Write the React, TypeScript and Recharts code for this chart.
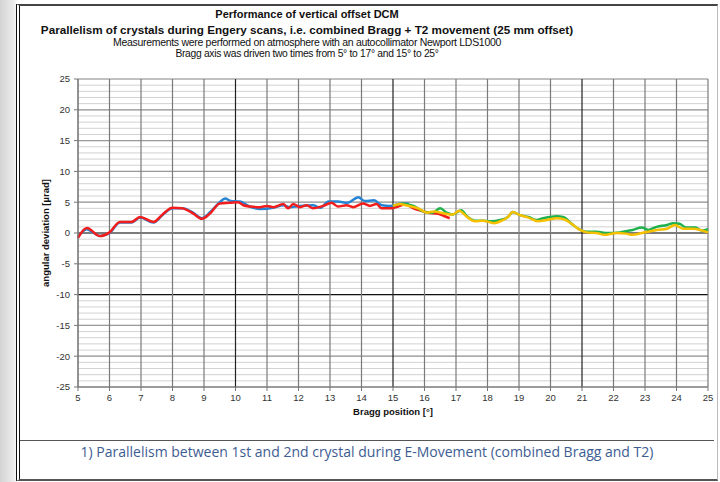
import React from 'react';
import {
  LineChart,
  Line,
  XAxis,
  YAxis,
  CartesianGrid,
  ReferenceLine,
} from 'recharts';

// Bragg position [deg] vs angular deviation [urad]
const run1Blue = [
  { x: 5.0, y: -0.6 }, { x: 5.28, y: 0.6 }, { x: 5.5, y: 0.0 }, { x: 5.7, y: -0.5 },
  { x: 6.0, y: 0.0 }, { x: 6.33, y: 1.7 }, { x: 6.7, y: 1.7 }, { x: 6.97, y: 2.5 },
  { x: 7.4, y: 1.7 }, { x: 7.7, y: 3.0 }, { x: 8.0, y: 4.0 }, { x: 8.3, y: 4.0 },
  { x: 8.65, y: 3.3 }, { x: 8.93, y: 2.4 }, { x: 9.2, y: 3.4 }, { x: 9.5, y: 5.0 },
  { x: 9.67, y: 5.6 }, { x: 9.85, y: 5.2 }, { x: 10.14, y: 5.1 }, { x: 10.45, y: 4.3 },
  { x: 10.78, y: 3.9 }, { x: 11.2, y: 4.1 }, { x: 11.52, y: 4.5 }, { x: 11.7, y: 4.2 },
  { x: 12.05, y: 4.4 }, { x: 12.46, y: 4.5 }, { x: 12.7, y: 4.1 }, { x: 12.95, y: 5.1 },
  { x: 13.25, y: 5.1 }, { x: 13.55, y: 4.9 }, { x: 13.9, y: 5.8 }, { x: 14.1, y: 5.2 },
  { x: 14.4, y: 5.3 }, { x: 14.65, y: 4.5 }, { x: 14.9, y: 4.4 }, { x: 15.22, y: 4.7 },
  { x: 15.5, y: 4.8 },
];

const run1Red = [
  { x: 5.0, y: -0.8 }, { x: 5.28, y: 0.8 }, { x: 5.7, y: -0.5 }, { x: 6.0, y: 0.1 },
  { x: 6.33, y: 1.8 }, { x: 6.7, y: 1.8 }, { x: 6.97, y: 2.6 }, { x: 7.4, y: 1.8 },
  { x: 7.7, y: 3.1 }, { x: 8.0, y: 4.1 }, { x: 8.3, y: 4.0 }, { x: 8.65, y: 3.2 },
  { x: 8.93, y: 2.3 }, { x: 9.2, y: 3.2 }, { x: 9.5, y: 4.8 }, { x: 9.83, y: 4.9 },
  { x: 10.08, y: 5.0 }, { x: 10.25, y: 4.5 }, { x: 10.46, y: 4.3 }, { x: 10.78, y: 4.2 },
  { x: 11.0, y: 4.4 }, { x: 11.2, y: 4.2 }, { x: 11.52, y: 4.7 }, { x: 11.67, y: 4.0 },
  { x: 11.83, y: 4.7 }, { x: 12.05, y: 4.2 }, { x: 12.26, y: 4.5 }, { x: 12.46, y: 4.0 },
  { x: 12.78, y: 4.4 }, { x: 13.05, y: 4.9 }, { x: 13.25, y: 4.3 }, { x: 13.53, y: 4.5 },
  { x: 13.73, y: 4.2 }, { x: 14.05, y: 4.8 }, { x: 14.27, y: 4.4 }, { x: 14.48, y: 4.7 },
  { x: 14.64, y: 4.0 }, { x: 14.9, y: 4.0 }, { x: 15.22, y: 4.4 }, { x: 15.38, y: 4.7 },
  { x: 15.65, y: 4.0 }, { x: 15.9, y: 3.6 }, { x: 16.12, y: 3.3 }, { x: 16.44, y: 3.1 },
  { x: 16.6, y: 2.8 }, { x: 16.8, y: 2.4 },
];

const run2Green = [
  { x: 15.0, y: 4.4 }, { x: 15.3, y: 4.8 }, { x: 15.65, y: 4.4 }, { x: 15.97, y: 3.5 },
  { x: 16.25, y: 3.3 }, { x: 16.5, y: 4.0 }, { x: 16.7, y: 3.3 }, { x: 16.9, y: 3.0 },
  { x: 17.17, y: 3.7 }, { x: 17.33, y: 2.8 }, { x: 17.6, y: 2.0 }, { x: 17.86, y: 2.0 },
  { x: 18.1, y: 1.9 }, { x: 18.4, y: 2.1 }, { x: 18.65, y: 2.6 }, { x: 18.8, y: 3.4 },
  { x: 19.03, y: 2.9 }, { x: 19.3, y: 2.6 }, { x: 19.56, y: 2.1 }, { x: 19.77, y: 2.4 },
  { x: 19.98, y: 2.6 }, { x: 20.2, y: 2.7 }, { x: 20.4, y: 2.6 }, { x: 20.67, y: 1.5 },
  { x: 20.94, y: 0.5 }, { x: 21.15, y: 0.2 }, { x: 21.47, y: 0.2 }, { x: 21.8, y: 0.0 },
  { x: 22.2, y: 0.1 }, { x: 22.6, y: 0.5 }, { x: 22.9, y: 0.9 }, { x: 23.1, y: 0.5 },
  { x: 23.37, y: 1.0 }, { x: 23.7, y: 1.3 }, { x: 23.9, y: 1.6 }, { x: 24.1, y: 1.5 },
  { x: 24.3, y: 0.9 }, { x: 24.6, y: 0.9 }, { x: 24.8, y: 0.4 }, { x: 25.0, y: 0.6 },
];

const run2Yellow = [
  { x: 15.0, y: 4.4 }, { x: 15.22, y: 4.7 }, { x: 15.4, y: 4.5 }, { x: 15.8, y: 4.0 },
  { x: 16.08, y: 3.3 }, { x: 16.3, y: 3.5 }, { x: 16.6, y: 3.2 }, { x: 16.9, y: 3.0 },
  { x: 17.1, y: 3.6 }, { x: 17.33, y: 2.7 }, { x: 17.6, y: 1.9 }, { x: 17.86, y: 2.0 },
  { x: 18.2, y: 1.6 }, { x: 18.45, y: 2.0 }, { x: 18.65, y: 2.6 }, { x: 18.8, y: 3.4 },
  { x: 19.03, y: 2.9 }, { x: 19.3, y: 2.5 }, { x: 19.6, y: 1.9 }, { x: 19.87, y: 2.1 },
  { x: 20.2, y: 2.4 }, { x: 20.45, y: 2.2 }, { x: 20.72, y: 1.3 }, { x: 20.94, y: 0.5 },
  { x: 21.15, y: 0.1 }, { x: 21.47, y: 0.0 }, { x: 21.7, y: -0.3 }, { x: 22.1, y: 0.0 },
  { x: 22.4, y: -0.1 }, { x: 22.6, y: -0.3 }, { x: 22.9, y: 0.0 }, { x: 23.1, y: 0.2 },
  { x: 23.37, y: 0.5 }, { x: 23.7, y: 0.7 }, { x: 23.95, y: 1.3 }, { x: 24.2, y: 0.7 },
  { x: 24.5, y: 0.7 }, { x: 24.76, y: 0.5 }, { x: 25.0, y: 0.1 },
];

const xTicks = [5, 6, 7, 8, 9, 10, 11, 12, 13, 14, 15, 16, 17, 18, 19, 20, 21, 22, 23, 24, 25];
const yTicks = [-25, -20, -15, -10, -5, 0, 5, 10, 15, 20, 25];
const yMinorGrid = Array.from({ length: 51 }, (_, i) => i - 25);
const darkVerticals = [10, 15, 21];
const blackHorizontals = [0, -10];

const font = '"Liberation Sans", Arial, sans-serif';

const App: React.FC = () => {
  return (
    <div
      style={{
        position: 'fixed',
        left: 0,
        top: 0,
        width: 720,
        height: 482,
        overflow: 'hidden',
        background: 'linear-gradient(to right, #d4d4d4 0px, #ececec 14px, #ffffff 18px)',
        fontFamily: font,
      }}
    >
      {/* frame */}
      <div
        style={{
          position: 'absolute',
          left: 16,
          top: 4,
          width: 697,
          height: 473,
          background: '#fff',
          borderTop: '2px solid #444',
          borderRight: '1px solid #bbb',
          borderBottom: '2px solid #555',
          borderLeft: '4px double #111',
        }}
      />
      <div style={{ position: 'absolute', left: 0, width: 614, top: 8, textAlign: 'center', color: '#111' }}>
        <div style={{ fontSize: 11, fontWeight: 'bold', lineHeight: '13px' }}>Performance of vertical offset DCM</div>
        <div style={{ fontSize: 11.7, fontWeight: 'bold', lineHeight: '15px', marginTop: 1 }}>
          Parallelism of crystals during Engery scans, i.e. combined Bragg + T2 movement (25 mm offset)
        </div>
        <div style={{ fontSize: 10.5, lineHeight: '11px', letterSpacing: -0.3 }}>
          Measurements were performed on atmosphere with an autocollimator Newport LDS1000
        </div>
        <div style={{ fontSize: 10.3, lineHeight: '12px', letterSpacing: -0.3 }}>
          Bragg axis was driven two times from 5° to 17° and 15° to 25°
        </div>
      </div>

      <div style={{ position: 'absolute', left: 0, top: 0 }}>
        <LineChart width={720} height={482} margin={{ top: 79, right: 12, bottom: 65, left: 38 }}>
          <CartesianGrid
            stroke="#d2d2d2"
            strokeWidth={1}
            horizontalValues={yMinorGrid}
            vertical={false}
          />
          {yTicks.map((v) => (
            <ReferenceLine key={`h${v}`} y={v} stroke={blackHorizontals.includes(v) ? '#111' : '#9a9a9a'} strokeWidth={1.2} />
          ))}
          {xTicks.map((v) => (
            <ReferenceLine key={`v${v}`} x={v} stroke={darkVerticals.includes(v) ? '#222' : '#7a7a7a'} strokeWidth={1.2} />
          ))}
          <XAxis
            type="number"
            dataKey="x"
            domain={[5, 25]}
            ticks={xTicks}
            interval={0}
            height={30}
            stroke="#777"
            tickSize={4}
            tickMargin={3}
            tick={{ fontSize: 9.5, fill: '#333', fontFamily: font }}
            allowDuplicatedCategory={false}
          />
          <YAxis
            type="number"
            dataKey="y"
            domain={[-25, 25]}
            ticks={yTicks}
            interval={0}
            width={40}
            stroke="#777"
            tickSize={4}
            tickMargin={4}
            tick={{ fontSize: 9.5, fill: '#333', fontFamily: font }}
          />
          <Line data={run1Blue} dataKey="y" type="monotone" stroke="#2784d4" strokeWidth={2.5} dot={false} isAnimationActive={false} />
          <Line data={run1Red} dataKey="y" type="monotone" stroke="#f21d1d" strokeWidth={2.5} dot={false} isAnimationActive={false} />
          <Line data={run2Green} dataKey="y" type="monotone" stroke="#1fb14c" strokeWidth={2.5} dot={false} isAnimationActive={false} />
          <Line data={run2Yellow} dataKey="y" type="monotone" stroke="#f6c000" strokeWidth={2.5} dot={false} isAnimationActive={false} />
        </LineChart>
      </div>

      <div
        style={{
          position: 'absolute',
          left: 45,
          top: 233,
          transform: 'translate(-50%, -50%) rotate(-90deg)',
          fontSize: 9.5,
          fontWeight: 'bold',
          color: '#111',
          whiteSpace: 'nowrap',
        }}
      >
        angular deviation [µrad]
      </div>
      <div
        style={{
          position: 'absolute',
          left: 393,
          top: 411,
          transform: 'translate(-50%, -50%)',
          fontSize: 9.5,
          fontWeight: 'bold',
          color: '#111',
          whiteSpace: 'nowrap',
        }}
      >
        Bragg position [°]
      </div>

      {/* caption box */}
      <div style={{ position: 'absolute', left: 20, top: 440, width: 694, height: 0, borderTop: '1px solid #555' }} />
      <div
        style={{
          position: 'absolute',
          left: 20,
          width: 694,
          top: 442,
          textAlign: 'center',
          fontFamily: '"Open Sans", "Noto Sans", sans-serif',
          fontSize: 14,
          color: '#3d5c92',
          whiteSpace: 'nowrap',
        }}
      >
        1) Parallelism between 1st and 2nd crystal during E-Movement (combined Bragg and T2)
      </div>
    </div>
  );
};

export default App;
